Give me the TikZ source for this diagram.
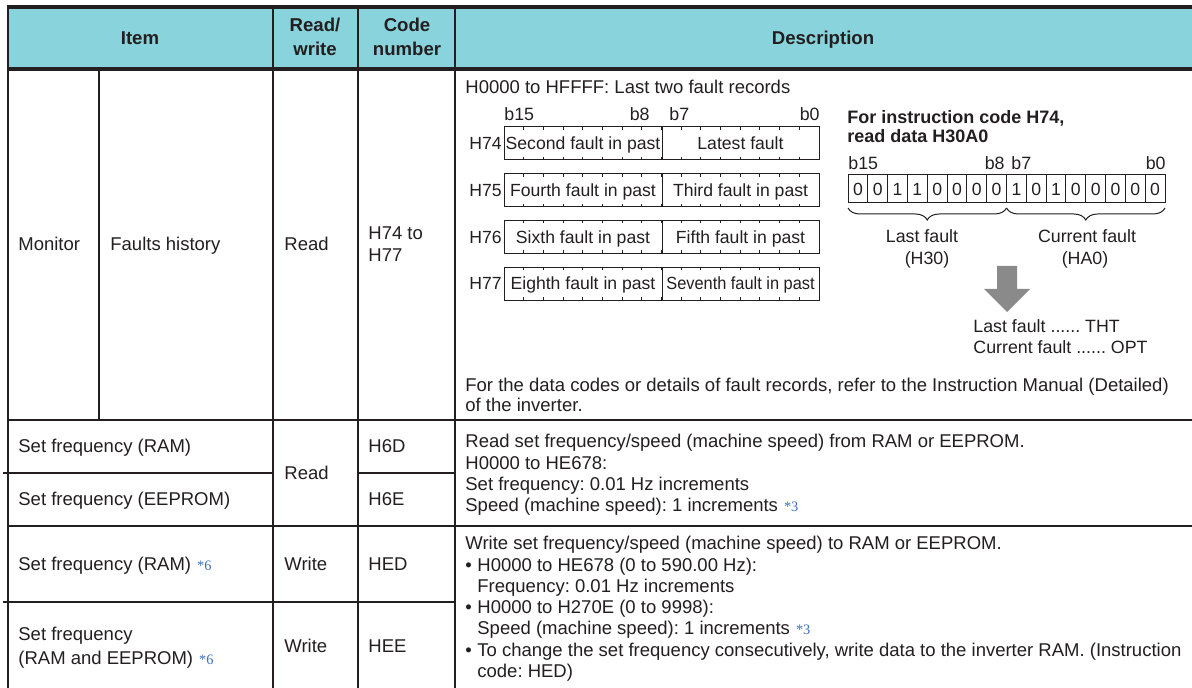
\documentclass[tikz,border=0pt]{standalone}
\usepackage{fontspec}
\setmainfont{Liberation Sans}
\newfontfamily\notefont{Liberation Serif}
\usetikzlibrary{decorations.pathreplacing}
\frenchspacing

\definecolor{headcyan}{RGB}{137,211,220}
\definecolor{ink}{RGB}{35,31,32}
\definecolor{noteblue}{RGB}{60,110,190}
\definecolor{arrowgray}{RGB}{138,138,138}

% blue footnote mark after a text
\newcommand{\fnmark}[1]{\hspace{3pt}{\notefont\fontsize{7.2pt}{7.2pt}\selectfont\color{noteblue}*#1}}

\begin{document}
\begin{tikzpicture}[
    x=0.5pt, y=-0.5pt, % one unit is one pixel, y runs down
    rule/.style={ink, line width=1.3pt}, % table rules
    heavyrule/.style={ink, line width=1.8pt}, % rules round the header
    fine/.style={ink, line width=0.5pt}, % bit boxes
    txt/.style={inner sep=0pt, anchor=base west, text=ink, font=\fontsize{9.25pt}{10.6pt}\selectfont},
    ctxt/.style={txt, anchor=base},
    headtxt/.style={ctxt, font=\fontsize{9.3pt}{10.6pt}\selectfont\bfseries},
    smalltxt/.style={txt, font=\fontsize{8.9pt}{10pt}\selectfont},
    bittxt/.style={inner sep=0pt, text=ink, font=\fontsize{8.8pt}{10pt}\selectfont, text height=6.3pt, text depth=0pt}
]

    \fill[white] (0,0) rectangle (1192,688);
    \useasboundingbox (0,0) rectangle (1192,688);

    % Header band
    \fill[headcyan] (8,7) rectangle (1192,69);

    % Rules of the table
    \draw[heavyrule] (7,7) -- (1192,7);
    \draw[heavyrule] (7,69) -- (1192,69);
    \foreach \x in {8,273,358,455}
        \draw[rule] (\x,7) -- (\x,688);
    \draw[rule] (99,69) -- (99,420); % Monitor | Faults history
    \draw[rule] (8,420) -- (1192,420);
    \draw[rule] (3,473) -- (273,473);
    \draw[rule] (358,473) -- (455,473);
    \draw[rule] (8,526) -- (1192,526);
    \draw[rule] (3,602) -- (455,602);

    % Header texts
    \node[headtxt] (item) at (140,45) {Item};
    \node[headtxt] (rwa) at (315,32) {Read/};
    \node[headtxt] (rwb) at (315,56) {write};
    \node[headtxt] (codea) at (407,32) {Code};
    \node[headtxt] (codeb) at (407,56) {number};
    \node[headtxt] (desc) at (823,45) {Description};

    % --- Monitor row ---
    \node[txt] (mon) at (18,251) {Monitor};
    \node[txt] (fhist) at (110,251) {Faults history};
    \node[txt] (mread) at (284,251) {Read};
    \node[txt] (mcodea) at (368,240) {H74 to};
    \node[txt] (mcodeb) at (368,262) {H77};
    \node[txt] (range) at (465,94) {H0000 to HFFFF: Last two fault records};

    % Bit labels over the fault words
    \node[smalltxt] (lbfirst) at (504,121) {b15};
    \node[smalltxt, anchor=base east] (lbeight) at (650,121) {b8};
    \node[smalltxt] (lbseven) at (669,121) {b7};
    \node[smalltxt, anchor=base east] (lblast) at (820,121) {b0};

    % Fault words H74 to H77
    \foreach \wcode/\hiword/\loword [count=\i from 0] in {
        H74/Second fault in past/Latest fault,
        H75/Fourth fault in past/Third fault in past,
        H76/Sixth fault in past/Fifth fault in past,
        H77/Eighth fault in past/\scalebox{0.93}[1]{Seventh fault in past}}
    {
        \pgfmathsetmacro{\ytop}{127+46.67*\i}
        \draw[fine] (504,\ytop) rectangle (819,{\ytop+33});
        \draw[fine] (662,\ytop) -- (662,{\ytop+33});
        \foreach \k in {1,...,15} {
            \draw[fine] ({504+\k*19.6875},\ytop) -- ++(0,3);
            \draw[fine] ({504+\k*19.6875},{\ytop+33}) -- ++(0,-3);
        }
        \node[bittxt, anchor=east] (word\i) at (502,{\ytop+16.5}) {\wcode};
        \node[bittxt] (hi\i) at (583,{\ytop+16.5}) {\hiword};
        \node[bittxt] (lo\i) at (740.5,{\ytop+16.5}) {\loword};
    }

    % Read-out example for H74
    \node[txt, font=\fontsize{9pt}{10pt}\selectfont\bfseries] (exa) at (847,124) {For instruction code H74,};
    \node[txt, font=\fontsize{9pt}{10pt}\selectfont\bfseries] (exb) at (847,143) {read data H30A0};
    \node[smalltxt] (rbfirst) at (848,170) {b15};
    \node[smalltxt, anchor=base east] (rbeight) at (1005,170) {b8};
    \node[smalltxt] (rbseven) at (1011,170) {b7};
    \node[smalltxt, anchor=base east] (rblast) at (1166,170) {b0};
    \foreach \b [count=\k from 0] in {0,0,1,1,0,0,0,0,1,0,1,0,0,0,0,0} {
        \draw[fine] ({848+\k*19.8125},175) rectangle ++(19.8125,28);
        \node[bittxt] (bit\k) at ({848+(\k+0.5)*19.8125},189) {\b};
    }

    % Braces under the two bytes
    \draw[fine, decorate, decoration={brace, mirror, amplitude=6pt}] (848,208) -- (1006.5,208);
    \draw[fine, decorate, decoration={brace, mirror, amplitude=6pt}] (1006.5,208) -- (1165,208);
    \node[smalltxt, anchor=base] (lastf) at (922,243) {Last fault};
    \node[smalltxt, anchor=base] (lasth) at (927,265) {(H30)};
    \node[smalltxt, anchor=base] (curf) at (1087,243) {Current fault};
    \node[smalltxt, anchor=base] (curh) at (1085,265) {(HA0)};

    % Gray down arrow
    \fill[arrowgray] (997,266) -- (1017,266) -- (1017,289) -- (1030,289)
        -- (1007,312) -- (984,289) -- (997,289) -- cycle;
    \node[smalltxt] (resa) at (973,333) {Last fault ...... THT};
    \node[smalltxt] (resb) at (973,354) {Current fault ...... OPT};

    \node[txt] (refa) at (465,392) {For the data codes or details of fault records, refer to the Instruction Manual (Detailed)};
    \node[txt] (refb) at (465,412) {of the inverter.};

    % --- Read rows ---
    \node[txt] (sfram) at (18,453) {Set frequency (RAM)};
    \node[txt] (sfeep) at (18,506) {Set frequency (EEPROM)};
    \node[txt] (rdrw) at (284,480) {Read};
    \node[txt] (hsixd) at (368,453) {H6D};
    \node[txt] (hsixe) at (368,506) {H6E};
    \foreach \txtline [count=\i from 0] in {
        {Read set frequency/speed (machine speed) from RAM or EEPROM.},
        {H0000 to HE678:},
        {Set frequency: 0.01 Hz increments},
        {Speed (machine speed): 1 increments\fnmark{3}}}
        \node[txt] (rdesc\i) at (465,{448+21.2*\i}) {\txtline};

    % --- Write rows ---
    \node[txt] (wram) at (18,570) {Set frequency (RAM)\fnmark{6}};
    \node[txt] (wrwa) at (284,570) {Write};
    \node[txt] (hed) at (368,570) {HED};
    \node[txt] (wbotha) at (18,640) {Set frequency};
    \node[txt] (wbothb) at (18,664) {(RAM and EEPROM)\fnmark{6}};
    \node[txt] (wrwb) at (284,652) {Write};
    \node[txt] (hee) at (368,652) {HEE};

    \node[txt] (wdesc0) at (465,550) {Write set frequency/speed (machine speed) to RAM or EEPROM.};
    \foreach \txtline [count=\i from 1] in {
        {H0000 to HE678 (0 to 590.00 Hz):},
        {Frequency: 0.01 Hz increments},
        {H0000 to H270E (0 to 9998):},
        {Speed (machine speed): 1 increments\fnmark{3}},
        {To change the set frequency consecutively, write data to the inverter RAM. (Instruction},
        {code: HED)}}
        \node[txt] (wdesc\i) at (477,{550+21.2*\i}) {\txtline};
    \foreach \i in {1,3,5}
        \node[txt] (bul\i) at (465,{550+21.2*\i}) {\textbullet};

\end{tikzpicture}
\end{document}
